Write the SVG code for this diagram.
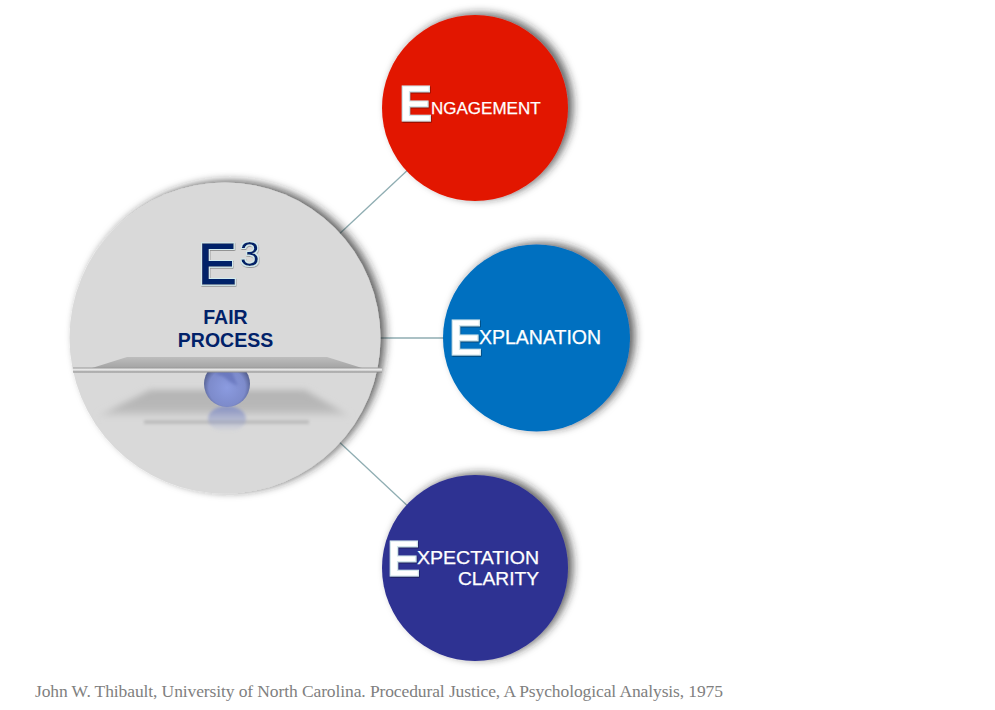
<svg xmlns="http://www.w3.org/2000/svg" width="995" height="710" viewBox="0 0 995 710">
<style>
.sans{font-family:"Liberation Sans",Arial,sans-serif}
.cap{font-size:50px;font-weight:700;fill:#fff;stroke:#d3e6ec;stroke-width:1.2;filter:url(#tshadow)}
.lab{font-size:19.500px;fill:#fff}
.lab2{font-size:18px;fill:#fff;stroke:#fff;stroke-width:0.25}
.navy{fill:#012169;font-weight:700;font-size:19.500px;text-anchor:middle}
.conn{stroke:#8fadb2;stroke-width:1.3;fill:none}
</style>
<defs>
<filter id="shadow" x="-20%" y="-20%" width="140%" height="140%">
<feDropShadow dx="5" dy="-2" stdDeviation="4" flood-color="#222" flood-opacity="0.7"/>
</filter>
<filter id="tshadow" x="-20%" y="-20%" width="140%" height="140%">
<feDropShadow dx="0.5" dy="1" stdDeviation="0.7" flood-color="#000" flood-opacity="0.55"/>
</filter>
<filter id="halo" x="-30%" y="-30%" width="160%" height="160%">
<feMorphology in="SourceAlpha" operator="dilate" radius="0.9" result="d"/>
<feFlood flood-color="#d2ecf0"/>
<feComposite in2="d" operator="in" result="h"/>
<feDropShadow in="h" dx="0.4" dy="0.8" stdDeviation="0.6" flood-color="#000" flood-opacity="0.4" result="s"/>
<feMerge><feMergeNode in="s"/><feMergeNode in="SourceGraphic"/></feMerge>
</filter>
<filter id="b3" x="-20%" y="-30%" width="140%" height="160%"><feGaussianBlur stdDeviation="3"/></filter>
<filter id="b1" x="-20%" y="-100%" width="140%" height="300%"><feGaussianBlur stdDeviation="1.6"/></filter>
<radialGradient id="ball" cx="50%" cy="58%" r="55%">
<stop offset="0" stop-color="#8b9be0"/><stop offset="0.72" stop-color="#7d8bcb"/><stop offset="1" stop-color="#4f5a88"/>
</radialGradient>
<linearGradient id="plate" x1="0" y1="0" x2="0" y2="1">
<stop offset="0" stop-color="#bdbdbd"/><stop offset="1" stop-color="#a4a4a4"/>
</linearGradient>
<linearGradient id="bar" x1="0" y1="0" x2="0" y2="1">
<stop offset="0" stop-color="#9a9a9a"/><stop offset="0.45" stop-color="#f0f0f0"/><stop offset="1" stop-color="#8a8a8a"/>
</linearGradient>
<linearGradient id="refl" x1="0" y1="0" x2="0" y2="1">
<stop offset="0" stop-color="#7f8cc8" stop-opacity="0.8"/><stop offset="1" stop-color="#7f8cc8" stop-opacity="0"/>
</linearGradient>
<linearGradient id="floor" x1="0" y1="0" x2="0" y2="1">
<stop offset="0" stop-color="#b4b4b4"/><stop offset="0.7" stop-color="#b8b8b8"/><stop offset="1" stop-color="#d0d0d0"/>
</linearGradient>
</defs>
<rect width="995" height="710" fill="#fff"/>
<g id="connectors">
<line class="conn" x1="335" y1="238" x2="412" y2="166"/>
<line class="conn" x1="378" y1="338" x2="448" y2="338"/>
<line class="conn" x1="335" y1="438" x2="412" y2="510"/>
</g>
<g id="fair-process">
<circle cx="225" cy="338" r="155.500" fill="#d9d9d9" filter="url(#shadow)"/>
<polygon points="150,390 305,390 350,416 98,416" fill="url(#floor)" filter="url(#b3)"/>
<rect x="144" y="420" width="165" height="4" fill="#bdbdbd" filter="url(#b1)"/>
<ellipse cx="227" cy="419" rx="19" ry="13" fill="url(#refl)" filter="url(#b1)"/>
<circle cx="227" cy="384" r="23" fill="url(#ball)"/>
<path d="M214 373 Q224 368 232 372 L238 386 L230 382 L224 377Z" fill="#5a68b0" opacity="0.55" filter="url(#b1)"/>
<polygon points="127,357 327,357 362,368 92,368" fill="url(#plate)"/>
<rect x="73" y="367.500" width="309" height="5" fill="url(#bar)"/>
<text class="sans" x="198" y="284" font-size="58" fill="#012169" stroke="#012169" stroke-width="1.400" filter="url(#halo)">E</text>
<text class="sans" x="240" y="266" font-size="35" fill="#012169" filter="url(#halo)">3</text>
<text class="sans navy" x="225.500" y="324">FAIR</text>
<text class="sans navy" x="225.500" y="347">PROCESS</text>
</g>
<g id="engagement">
<circle cx="475" cy="108" r="93" fill="#e21500" filter="url(#shadow)"/>
<text class="sans cap" x="399" y="121">E</text>
<text class="sans lab2" x="431" y="114" style="font-size:17px">NGAGEMENT</text>
</g>
<g id="explanation">
<circle cx="536.500" cy="338" r="93.500" fill="#0070c0" filter="url(#shadow)"/>
<text class="sans cap" x="449" y="355">E</text>
<text class="sans lab" x="479" y="344" stroke="#fff" stroke-width="0.25">XPLANATION</text>
</g>
<g id="expectation-clarity">
<circle cx="475" cy="568" r="93" fill="#2e3092" filter="url(#shadow)"/>
<text class="sans cap" x="387" y="576">E</text>
<text class="sans lab2" x="417" y="563.500" textLength="122" lengthAdjust="spacingAndGlyphs">XPECTATION</text>
<text class="sans lab2" x="458" y="584.500" textLength="81" lengthAdjust="spacingAndGlyphs">CLARITY</text>
</g>
<text x="35" y="697" font-family="'Liberation Serif','DejaVu Serif',serif" font-size="17.500" fill="#808080" textLength="688" lengthAdjust="spacing">John W. Thibault, University of North Carolina. Procedural Justice, A Psychological Analysis, 1975</text>
</svg>
